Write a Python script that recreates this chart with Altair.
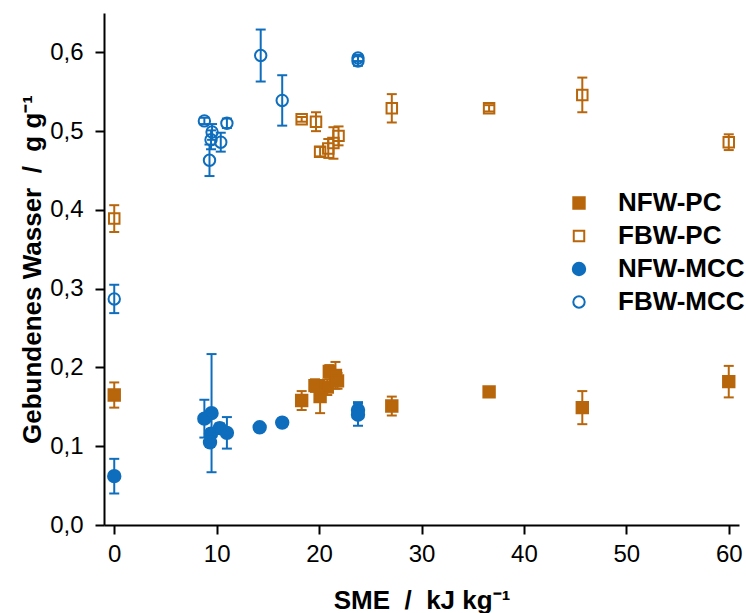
import altair as alt
import pandas as pd

# ---- data ----
SERIES = ["NFW-PC", "FBW-PC", "NFW-MCC", "FBW-MCC"]

NFW_PC_x = [0, 18.3, 19.6, 20.1, 20.8, 21.0, 21.6, 21.8, 27.1, 36.6, 45.7, 60.0]
NFW_PC_y = [0.165, 0.158, 0.177, 0.163, 0.175, 0.195, 0.190, 0.183, 0.151, 0.169, 0.149, 0.182]
NFW_PC_e = [0.016, 0.012, 0.008, 0.021, 0.010, 0.008, 0.017, 0.010, 0.012, 0.003, 0.021, 0.020]

FBW_PC_x = [0, 18.3, 19.7, 20.1, 20.9, 21.4, 21.9, 27.1, 36.6, 45.7, 60.0]
FBW_PC_y = [0.389, 0.515, 0.512, 0.474, 0.478, 0.485, 0.494, 0.529, 0.529, 0.546, 0.486]
FBW_PC_e = [0.017, 0.003, 0.012, 0.006, 0.012, 0.020, 0.012, 0.018, 0.004, 0.022, 0.010]

NFW_MCC_x = [0, 8.8, 9.5, 9.45, 9.35, 10.3, 11.0, 14.2, 16.4, 23.8, 23.8]
NFW_MCC_y = [0.062, 0.135, 0.142, 0.116, 0.105, 0.123, 0.117, 0.124, 0.130, 0.146, 0.140]
NFW_MCC_e = [0.022, 0.024, 0.075, 0.006, 0.006, 0.006, 0.020, 0.004, 0.005, 0.010, 0.014]

FBW_MCC_x = [0, 8.8, 9.55, 9.45, 9.3, 10.4, 11.0, 14.3, 16.4, 23.8, 23.8]
FBW_MCC_y = [0.287, 0.513, 0.499, 0.489, 0.463, 0.486, 0.510, 0.596, 0.539, 0.593, 0.589]
FBW_MCC_e = [0.018, 0.004, 0.010, 0.012, 0.020, 0.012, 0.006, 0.033, 0.032, 0.004, 0.006]

X_TICKS = [0, 10, 20, 30, 40, 50, 60]
Y_TICKS = [0.0, 0.1, 0.2, 0.3, 0.4, 0.5, 0.6]

rows = []
for name, xs, ys, es in [
    ("NFW-PC", NFW_PC_x, NFW_PC_y, NFW_PC_e),
    ("FBW-PC", FBW_PC_x, FBW_PC_y, FBW_PC_e),
    ("NFW-MCC", NFW_MCC_x, NFW_MCC_y, NFW_MCC_e),
    ("FBW-MCC", FBW_MCC_x, FBW_MCC_y, FBW_MCC_e),
]:
    for xv, yv, ev in zip(xs, ys, es):
        rows.append(dict(series=name, grp=name, sme=xv, val=yv, lo=yv - ev, hi=yv + ev))
df = pd.DataFrame(rows)

ORANGE = "#B8660B"
BLUE = "#0E6EBD"
FONT = "Liberation Sans"

stroke_scale = alt.Scale(domain=SERIES, range=[ORANGE, ORANGE, BLUE, BLUE])
fill_scale = alt.Scale(domain=SERIES, range=[ORANGE, "transparent", BLUE, "transparent"])
shape_scale = alt.Scale(domain=SERIES, range=["square", "square", "circle", "circle"])
size_scale = alt.Scale(type="ordinal", domain=SERIES, range=[130, 110, 154, 130])

xscale = alt.Scale(domain=[-1, 61], nice=False, zero=False)
yscale = alt.Scale(domain=[0, 0.65], nice=False, zero=False)

NB = "\u00a0"
x_axis = alt.Axis(values=X_TICKS, title=f"SME{NB}{NB}/{NB}{NB}kJ kg\u207b\u00b9",
                  titleY=83, titleBaseline="alphabetic")
y_axis = alt.Axis(values=Y_TICKS, title=f"Gebundenes Wasser{NB}{NB}/{NB}{NB}g g\u207b\u00b9",
                  labelExpr="replace(format(datum.value, '.1f'), '.', ',')",
                  titleX=-72, titleY=256, titleAngle=-90, titleAlign="center",
                  titleBaseline="middle")

legend = alt.Legend(title=None, orient="none", legendX=462, legendY=177,
                    labelFontSize=26, labelFont=FONT, labelFontWeight="bold",
                    labelColor="black", symbolStrokeWidth=2,
                    labelOffset=26, rowPadding=7, padding=0)

base = alt.Chart(df)
color_enc = alt.Color("grp:N", scale=stroke_scale, legend=None)

bars = base.mark_rule(strokeWidth=2).encode(
    x=alt.X("sme:Q", scale=xscale, axis=x_axis),
    y=alt.Y("lo:Q", scale=yscale, axis=y_axis),
    y2="hi:Q",
    color=color_enc,
)
cap_lo = base.mark_rule(strokeWidth=2, xOffset=-5, x2Offset=5).encode(
    x=alt.X("sme:Q", scale=xscale), x2="sme:Q",
    y=alt.Y("lo:Q", scale=yscale), color=color_enc,
)
cap_hi = base.mark_rule(strokeWidth=2, xOffset=-5, x2Offset=5).encode(
    x=alt.X("sme:Q", scale=xscale), x2="sme:Q",
    y=alt.Y("hi:Q", scale=yscale), color=color_enc,
)
points = base.mark_point(filled=True, opacity=1, strokeWidth=2).encode(
    x=alt.X("sme:Q", scale=xscale),
    y=alt.Y("val:Q", scale=yscale),
    shape=alt.Shape("series:N", scale=shape_scale, legend=legend),
    stroke=alt.Stroke("series:N", scale=stroke_scale, legend=legend),
    fill=alt.Fill("series:N", scale=fill_scale, legend=legend),
    size=alt.Size("series:N", scale=size_scale, legend=legend),
)

chart = alt.layer(bars, cap_lo, cap_hi, points).resolve_scale(
    color="independent"
).properties(
    width=635, height=512,
    autosize=alt.AutoSizeParams(type="none"),
    padding={"left": 104, "top": 13, "right": 7, "bottom": 88},
    background="white",
).configure_view(stroke=None).configure_axis(
    grid=False, domainColor="black", domainWidth=2, tickColor="black",
    tickWidth=2, tickSize=9, labelFontSize=24, labelFont=FONT, labelColor="black",
    labelPadding=8, titleFontSize=26, titleFont=FONT, titleFontWeight="bold",
    titleColor="black",
).configure_axisY(labelPadding=12)

chart.save("out.html", embed_options={"renderer": "svg", "actions": False})
